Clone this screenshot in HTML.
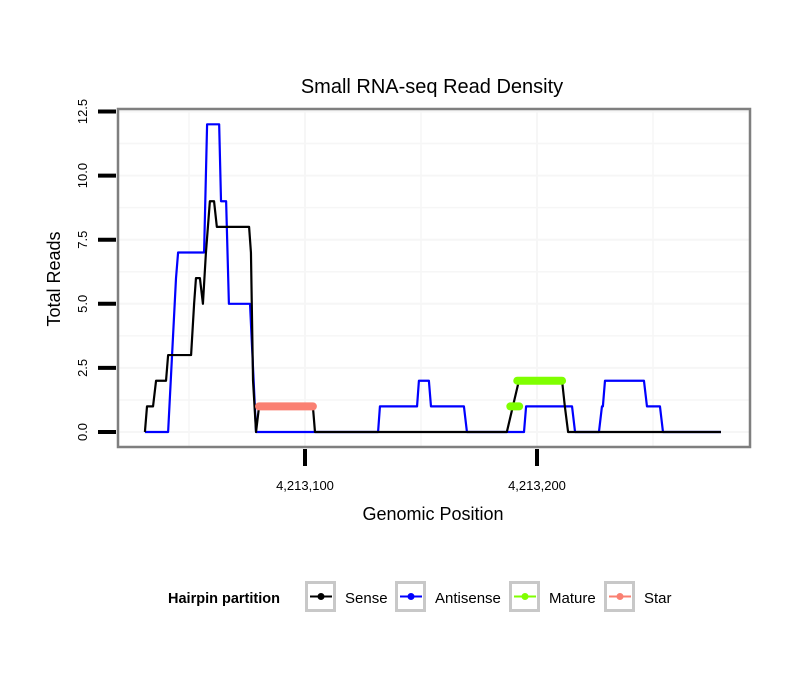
<!DOCTYPE html>
<html><head><meta charset="utf-8"><style>
body{margin:0;background:#fff;}
svg{display:block;font-family:"Liberation Sans",sans-serif;}
</style></head><body>
<svg id="chart" width="810" height="690" viewBox="0 0 810 690">
<rect width="810" height="690" fill="#fff"/>
<text x="432" y="93" font-size="20" text-anchor="middle">Small RNA-seq Read Density</text>
<g id="grid"></g>
<g id="series"></g>
<rect x="118" y="109" width="632" height="338" fill="none" stroke="#7f7f7f" stroke-width="2.5"/>
<g id="axes"></g>
<text x="433" y="520" font-size="18" text-anchor="middle">Genomic Position</text>
<text transform="translate(60,279) rotate(-90)" font-size="18" text-anchor="middle">Total Reads</text>
<g id="legend">
<text x="168" y="603" font-size="14.5" font-weight="bold">Hairpin partition</text>
</g>
</svg>
<script>
const xTicks = [4213100, 4213200];
const xTickLabels = ["4,213,100", "4,213,200"];
const yTicks = [0, 2.5, 5, 7.5, 10, 12.5];
const yTickLabels = ["0.0", "2.5", "5.0", "7.5", "10.0", "12.5"];
const base = 4213000;
const senseX = [31,31.9,34.5,35.8,40.1,41,50.9,52.2,53,54.7,56,57.3,59,60.8,62,75.9,76.7,77.6,78.9,80.2,103.4,104.3,187,192.2,210.8,212,213.4,279.3];
const senseY = [0,1,1,2,2,3,3,5,6,6,5,7,9,9,8,8,7,2,0,1,1,0,0,2,2,1,0,0];
const antisenseX = [31,41,42.7,44.4,45.3,56.5,57.8,63,63.8,66,67.2,76.3,78.9,131.5,132.3,148.3,149.1,153.4,154.3,168.5,169.8,194.4,195.3,215.1,216.4,226.7,228,228.4,229.3,246.1,247.4,253,254.3,279.3];
const antisenseY = [0,0,3,6,7,7,12,12,9,9,5,5,0,0,1,1,2,2,1,1,0,0,1,1,0,0,1,1,2,2,1,1,0,0];
const matureX = [[188.5,192.3],[191.5,210.8]];
const matureY = [1,2];
const starX = [[80.2,103.4]];
const starY = [1];
const legendLabels = ["Sense","Antisense","Mature","Star"];
const legendColors = ["#000000","#0000ff","#7fff00","#fa8072"];

const X0=305, XS=2.32, Y0=432, YS=25.64;
const xs = p => X0 + (p - 4213100) * XS;
const ys = v => Y0 - v * YS;
const NS="http://www.w3.org/2000/svg";
function mk(tag, attrs, parent){const e=document.createElementNS(NS,tag);for(const k in attrs)e.setAttribute(k,attrs[k]);parent.appendChild(e);return e;}
const grid=document.getElementById('grid'), ser=document.getElementById('series'), axes=document.getElementById('axes'), leg=document.getElementById('legend');

mk('rect',{x:118,y:109,width:632,height:338,fill:'#fff'},grid);
for(let v=0; v<=12.5; v+=1.25){
  const g=mk('line',{x1:118,x2:750,y1:ys(v),y2:ys(v),stroke:'#f6f6f6','stroke-width':v%2.5===0?2:1.5},grid);
  
  
}
for(let p=4213050; p<=4213250; p+=50){
  const g=mk('line',{x1:xs(p),x2:xs(p),y1:109,y2:447,stroke:'#f6f6f6','stroke-width':p%100===0?2:1.5},grid);
  
  
}
function line(xsArr, ysArr, color, name){
  const pts=xsArr.map((x,i)=>xs(base+x)+','+ys(ysArr[i])).join(' ');
  const l=mk('polyline',{points:pts,fill:'none',stroke:color,'stroke-width':2.2,'stroke-linejoin':'round'},ser);
  
  
}
line(antisenseX,antisenseY,'#0000ff','antisense-line');
line(senseX,senseY,'#000000','sense-line');
function segs(arr, vals, color, name){
  arr.forEach((s,i)=>{
    const l=mk('line',{x1:xs(base+s[0]),x2:xs(base+s[1]),y1:ys(vals[i]),y2:ys(vals[i]),stroke:color,'stroke-width':8,'stroke-linecap':'round'},ser);
    
    
  });
}
segs(starX,starY,'#fa8072','star-segment');
segs(matureX,matureY,'#7fff00','mature-segment');
yTicks.forEach((v,i)=>{
  const t=mk('line',{x1:98,x2:116,y1:ys(v),y2:ys(v),stroke:'#000','stroke-width':4},axes);
  
  
  const tx=mk('text',{transform:`translate(87,${ys(v)}) rotate(-90)`,'font-size':13,'text-anchor':'middle',fill:'#000'},axes);
  tx.textContent=yTickLabels[i];
  
  
});
xTicks.forEach((p,i)=>{
  const t=mk('line',{x1:xs(p),x2:xs(p),y1:449,y2:466,stroke:'#000','stroke-width':4},axes);
  
  
  const tx=mk('text',{x:xs(p),y:490,'font-size':13,'text-anchor':'middle',fill:'#000'},axes);
  tx.textContent=xTickLabels[i];
  
  
});
const keyX=[305,395,509,604];
legendLabels.forEach((lab,i)=>{
  const g=mk('g',{},leg);
  
  
  const x=keyX[i];
  mk('rect',{x:x+1.5,y:582.5,width:28,height:28,fill:'#fff',stroke:'#c8c8c8','stroke-width':3},g);
  mk('line',{x1:x+5,x2:x+27,y1:596.5,y2:596.5,stroke:legendColors[i],'stroke-width':2},g);
  mk('circle',{cx:x+16,cy:596.5,r:3.5,fill:legendColors[i]},g);
  const t=mk('text',{x:x+40,y:603,'font-size':15},g);
  t.textContent=lab;
});
</script>
</body></html>
